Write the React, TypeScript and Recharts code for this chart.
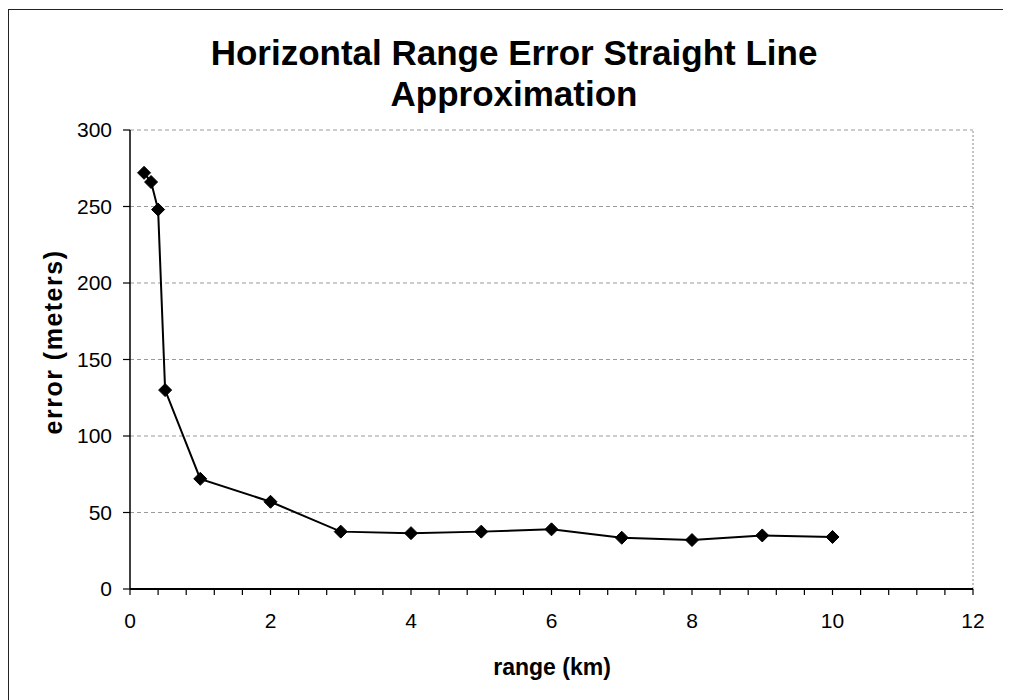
import { LineChart, Line, XAxis, YAxis, CartesianGrid, ReferenceLine, Label } from "recharts";

const rangeKm = [0.2, 0.3, 0.4, 0.5, 1, 2, 3, 4, 5, 6, 7, 8, 9, 10];
const errorMeters = [272, 266, 248, 130, 72, 57, 37.5, 36.5, 37.5, 39, 33.5, 32, 35, 34];

const xTicks = [
  0, 0.4, 0.8, 1.2, 1.6, 2, 2.4, 2.8, 3.2, 3.6, 4, 4.4, 4.8, 5.2, 5.6, 6,
  6.4, 6.8, 7.2, 7.6, 8, 8.4, 8.8, 9.2, 9.6, 10, 10.4, 10.8, 11.2, 11.6, 12,
];
const yTicks = [0, 50, 100, 150, 200, 250, 300];

const titleLines = ["Horizontal Range Error Straight Line", "Approximation"];
const xTitle = "range (km)";
const yTitle = "error (meters)";

const FONT = "'Liberation Sans', Arial, Helvetica, sans-serif";

const data = rangeKm.map((x, i) => ({ x, y: errorMeters[i] }));

// only even whole numbers get a label, the rest are minor ticks
const xLabel = (v: number) => {
  const r = Math.round(v);
  return Math.abs(v - r) < 1e-6 && r % 2 === 0 ? String(r) : "";
};

const Diamond = (props: any) => {
  const { cx, cy } = props;
  if (cx == null || cy == null) return null;
  const s = 6.5;
  return (
    <polygon
      points={`${cx},${cy - s} ${cx + s},${cy} ${cx},${cy + s} ${cx - s},${cy}`}
      fill="#000"
      stroke="#000"
      strokeWidth={1}
    />
  );
};

const YTitle = () => (
  <text
    x={45}
    y={334}
    transform="rotate(-90, 45, 334)"
    textAnchor="middle"
    dominantBaseline="central"
    fontFamily={FONT}
    fontWeight="bold"
    fontSize={25}
    letterSpacing={1.5}
    fill="#000"
  >
    {yTitle}
  </text>
);

const XTitle = () => (
  <text x={544} y={667} textAnchor="middle" fontFamily={FONT} fontWeight="bold" fontSize={23} fill="#000">
    {xTitle}
  </text>
);

export default function App() {
  return (
    <div style={{ position: "relative", width: 1003, height: 692, fontFamily: FONT }}>
      <LineChart
        width={1003}
        height={692}
        data={data}
        margin={{ top: 122, right: 38, left: 0, bottom: 0 }}
      >
        <CartesianGrid vertical={false} stroke="#9a9a9a" strokeDasharray="4 3" />
        <ReferenceLine x={12} stroke="#8a8a8a" strokeDasharray="2 2" ifOverflow="extendDomain" />
        <XAxis
          dataKey="x"
          type="number"
          domain={[0, 12]}
          ticks={xTicks}
          interval={0}
          tickFormatter={xLabel}
          tickSize={6}
          tickMargin={18}
          height={111}
          stroke="#000"
          axisLine={{ stroke: "#000", strokeWidth: 2 }}
          tickLine={{ stroke: "#000", strokeWidth: 1.2 }}
          tick={{ fill: "#000", fontSize: 21, fontFamily: FONT }}
        >
          <Label content={XTitle} />
        </XAxis>
        <YAxis
          type="number"
          domain={[0, 300]}
          ticks={yTicks}
          interval={0}
          width={122}
          tickSize={7}
          tickMargin={11}
          stroke="#000"
          axisLine={{ stroke: "#000", strokeWidth: 1.5 }}
          tickLine={{ stroke: "#000", strokeWidth: 1.2 }}
          tick={{ fill: "#000", fontSize: 21, fontFamily: FONT }}
        >
          <Label content={YTitle} />
        </YAxis>
        <Line
          type="linear"
          dataKey="y"
          stroke="#000"
          strokeWidth={2}
          dot={<Diamond />}
          activeDot={false}
          isAnimationActive={false}
        />
      </LineChart>
      <div
        style={{
          position: "absolute",
          left: 0,
          top: 1,
          right: 0,
          bottom: 0,
          borderLeft: "1.5px solid #222",
          borderTop: "1.5px solid #222",
          pointerEvents: "none",
        }}
      />
      <svg width={1003} height={120} style={{ position: "absolute", left: 0, top: 0 }}>
        {titleLines.map((t, i) => (
          <text
            key={i}
            x={506}
            y={57 + i * 41}
            textAnchor="middle"
            fontFamily={FONT}
            fontWeight="bold"
            fontSize={35}
            fill="#000"
          >
            {t}
          </text>
        ))}
      </svg>
    </div>
  );
}
